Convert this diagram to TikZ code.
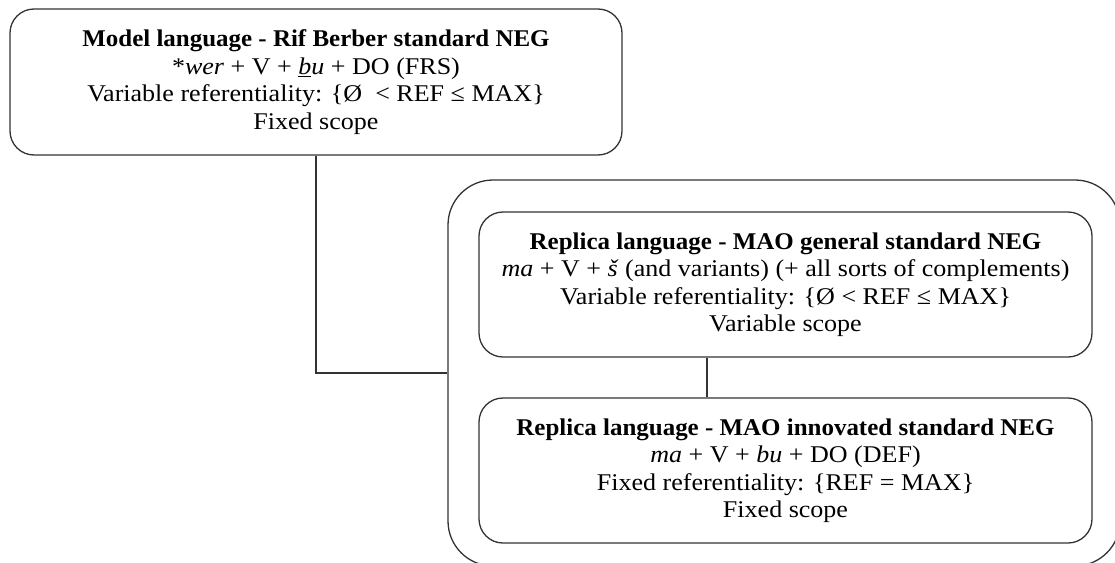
\documentclass[tikz,border=0pt]{standalone}
\usepackage{fontspec}
\setmainfont{Liberation Serif}[FakeStretch=1.085, BoldFeatures={FakeStretch=1.04}]
\usetikzlibrary{calc}
\definecolor{linec}{HTML}{333333}
\tikzset{
  box/.style={draw=linec, line width=1.3pt, rounded corners=24pt, align=center,
    font=\fontsize{24}{27.5}\selectfont, inner sep=0pt, text=black},
  outerbox/.style={draw=linec, line width=1.3pt, rounded corners=45pt, inner sep=0pt},
  conn/.style={draw=linec, line width=2.4pt},
}
\newcommand{\ubarb}{\underline{b}}
\begin{document}
\begin{tikzpicture}[x=1pt,y=-1pt]
\useasboundingbox (0,0) rectangle (1115,562);
\clip (0,0) rectangle (1115,562);
\node[outerbox, minimum width=672pt, minimum height=386pt] (outer) at (784,373) {};
\node[box, minimum width=612pt, minimum height=146pt] (top) at (316,82)
  {\textbf{Model language - Rif Berber standard NEG}\\
   *\textit{wer} + V + \textit{\ubarb u} + DO (FRS)\\
   Variable referentiality: \{Ø\ \ < REF ≤ MAX\}\\
   Fixed scope};
\node[box, minimum width=613pt, minimum height=145pt] (inner1) at (785.5,284.5)
  {\textbf{Replica language - MAO general standard NEG}\\
   \textit{ma} + V + \textit{š} (and variants) (+ all sorts of complements)\\
   Variable referentiality: \{Ø < REF ≤ MAX\}\\
   Variable scope};
\node[box, minimum width=613pt, minimum height=145pt] (inner2) at (785.5,470.5)
  {\textbf{Replica language - MAO innovated standard NEG}\\
   \textit{ma} + V + \textit{bu} + DO (DEF)\\
   Fixed referentiality: \{REF = MAX\}\\
   Fixed scope};
\coordinate (cx) at (707,0);
\draw[conn] (top.south) |- (outer.west);
\draw[conn] (inner1.south -| cx) -- (inner2.north -| cx);
\end{tikzpicture}
\end{document}
